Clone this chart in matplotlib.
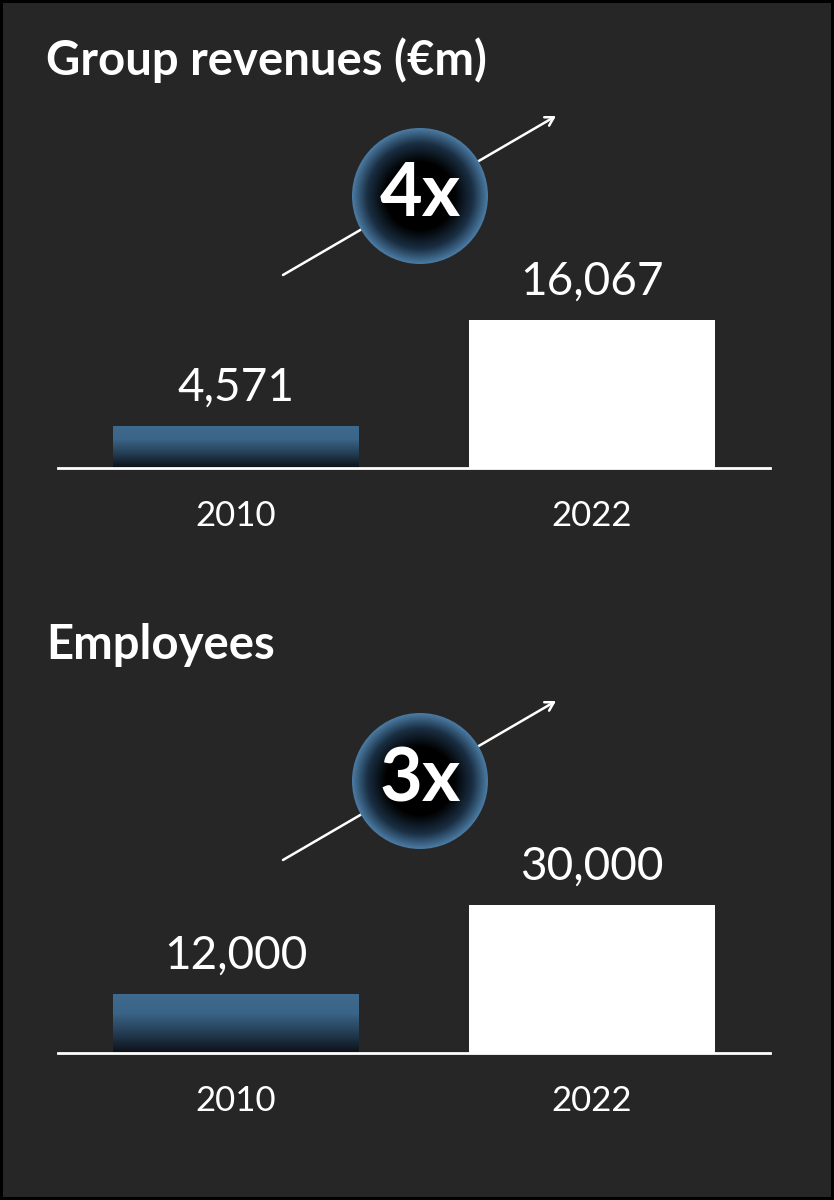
import numpy as np
import matplotlib.pyplot as plt
from matplotlib.colors import LinearSegmentedColormap
from matplotlib.patches import Circle

plt.rcParams['font.family'] = ['Lato', 'DejaVu Sans']

years = ['2010', '2022']
titles = ['Group revenues (€m)', 'Employees']
revenues = [4571, 16067]
employees = [12000, 30000]
rev_labels = ['4,571', '16,067']
emp_labels = ['12,000', '30,000']
multipliers = ['4x', '3x']

W, H = 834, 1200
bg = '#262626'
fig = plt.figure(figsize=(W / 100, H / 100), dpi=100, facecolor=bg,
                 edgecolor='black', linewidth=3)

# full-figure axes in pixel coords for titles and arrows
base = fig.add_axes([0, 0, 1, 1], zorder=0)
base.set_xlim(0, W)
base.set_ylim(H, 0)
base.axis('off')


def px(x, y, w, h):
    return [x / W, 1 - (y + h) / H, w / W, h / H]


bar_cmap = LinearSegmentedColormap.from_list(
    'bar', ['#0b1017', '#243d53', '#3a6488', '#3f6b8f'])
ring_cmap = LinearSegmentedColormap.from_list(
    'ring', [(0, '#000000'), (0.5, '#000000'), (0.78, '#1a2f43'), (1, '#4b7ba3')])


def panel(yb, title, values, labels, mult):
    base.text(46, yb - 408, title, color='white', fontsize=34,
              fontweight='bold', va='center', ha='left')
    base.annotate('', xy=(556, yb - 352), xytext=(283, yb - 193),
                  arrowprops=dict(arrowstyle='->,head_length=0.6,head_width=0.35',
                                  color='white', lw=1.8, shrinkA=0, shrinkB=0))

    ax = fig.add_axes(px(58, yb - 148, 712, 148), zorder=1)
    ax.set_facecolor('none')
    bars = ax.bar(range(len(values)), values, width=0.69,
                  color=['none', 'white'], edgecolor='none')
    r0 = bars[0]
    grad = np.linspace(0, 1, 256).reshape(-1, 1)
    im = ax.imshow(grad, cmap=bar_cmap, origin='lower', aspect='auto',
                   extent=(r0.get_x(), r0.get_x() + r0.get_width(), 0, r0.get_height()))
    im.set_clip_path(r0)
    ax.axhline(0, color='white', lw=2, clip_on=False)
    ax.set_xlim(-0.5, 1.5)
    ax.set_ylim(0, max(values))
    ax.axis('off')
    for i, (v, lab) in enumerate(zip(values, labels)):
        ax.annotate(lab, (i, v), xytext=(0, 27.5), textcoords='offset points',
                    ha='center', va='center', color='white', fontsize=33,
                    annotation_clip=False)
        ax.annotate(years[i], (i, 0), xytext=(0, -34.5), textcoords='offset points',
                    ha='center', va='center', color='white', fontsize=25,
                    annotation_clip=False)

    r = 68
    cx, cy = 420, yb - 272
    cax = fig.add_axes(px(cx - r, cy - r, 2 * r, 2 * r), zorder=2)
    yy, xx = np.mgrid[-1:1:300j, -1:1:300j]
    rad = np.sqrt(xx ** 2 + yy ** 2)
    img = cax.imshow(rad, cmap=ring_cmap, vmin=0, vmax=1, extent=(-1, 1, -1, 1))
    img.set_clip_path(Circle((0, 0), 1, transform=cax.transData))
    cax.set_xlim(-1, 1)
    cax.set_ylim(-1, 1)
    cax.axis('off')
    cax.text(0, 0.02, mult, color='white', fontsize=53, fontweight='bold',
             ha='center', va='center')


panel(468, titles[0], revenues, rev_labels, multipliers[0])
panel(1053, titles[1], employees, emp_labels, multipliers[1])

fig.savefig('out.png', dpi=100, facecolor=bg, edgecolor='black')
